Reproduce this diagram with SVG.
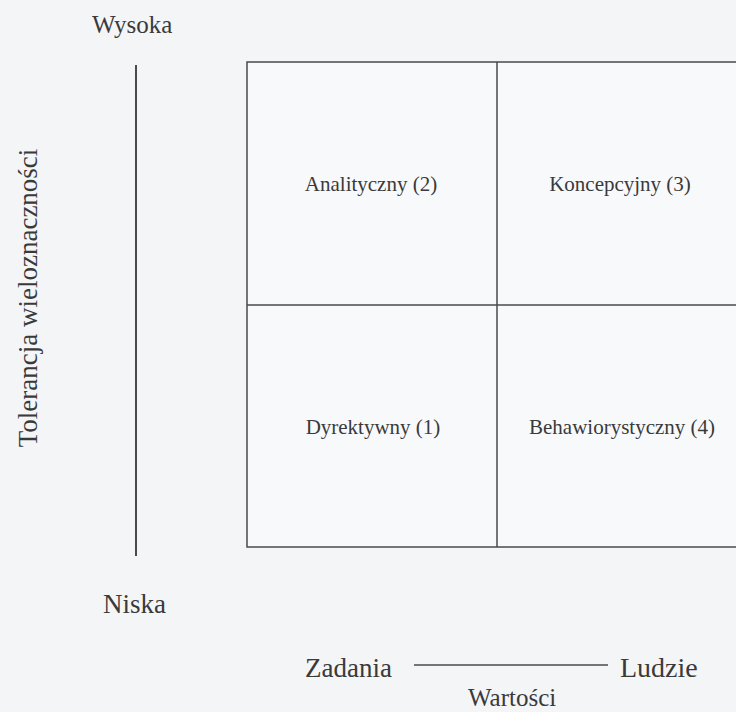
<svg xmlns="http://www.w3.org/2000/svg" width="736" height="712" viewBox="0 0 736 712">
  <style>
    .lbl { font-family: "Liberation Serif", "DejaVu Serif", serif; fill: #3a3a3a; }
    .q { font-size: 21px; text-anchor: middle; }
    .ax { font-size: 26px; }
    .ln { stroke: #4a4a4a; stroke-width: 1.5; fill: none; }
  </style>
  <rect x="0" y="0" width="736" height="712" fill="#f4f5f7"/>
  <g id="connectors">
    <line class="ln" x1="136" y1="65" x2="136" y2="556" style="stroke-width:2"/>
    <line class="ln" x1="414" y1="665" x2="608" y2="665"/>
  </g>
  <g id="grid">
    <rect x="247" y="62" width="500" height="485" fill="#f8f9fb" stroke="#4a4a4a" stroke-width="1.5"/>
    <line class="ln" x1="497" y1="62" x2="497" y2="547"/>
    <line class="ln" x1="247" y1="305" x2="736" y2="305"/>
  </g>
  <g id="wysoka"><text class="lbl" style="font-size:25px" x="92" y="33">Wysoka</text></g>
  <g id="niska"><text class="lbl" style="font-size:27px" x="103" y="613">Niska</text></g>
  <g id="tolerancja"><text class="lbl" style="font-size:27px" transform="translate(37,298) rotate(-90)" text-anchor="middle">Tolerancja wieloznaczności</text></g>
  <g id="analityczny"><text class="lbl q" x="371" y="191">Analityczny (2)</text></g>
  <g id="koncepcyjny"><text class="lbl q" x="620" y="191">Koncepcyjny (3)</text></g>
  <g id="dyrektywny"><text class="lbl q" x="373" y="434">Dyrektywny (1)</text></g>
  <g id="behawiorystyczny"><text class="lbl q" x="622" y="434">Behawiorystyczny (4)</text></g>
  <g id="zadania"><text class="lbl" style="font-size:27px" x="305" y="677">Zadania</text></g>
  <g id="ludzie"><text class="lbl" style="font-size:28px" x="620" y="677">Ludzie</text></g>
  <g id="wartosci"><text class="lbl" style="font-size:25px" x="468" y="706">Wartości</text></g>
</svg>
